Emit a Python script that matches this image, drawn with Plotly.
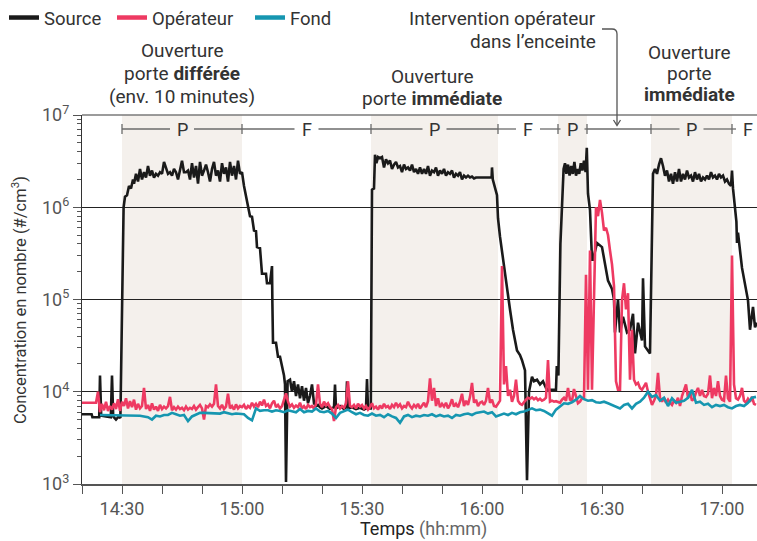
import pandas as pd
import plotly.graph_objects as go

# ---------------- data (minutes after 14:00, concentration #/cm3) ----------------
src_time = [20, 22.4, 22.6, 24.3, 24.5, 24.8, 26.0, 27.2, 27.5, 27.8, 28.5, 29.2, 29.6,
            30.4, 30.75, 31.25, 31.75, 32.25, 32.75, 33.0,
            33.5, 34, 34.5, 35, 35.5, 36, 36.5, 37, 37.5, 38, 38.5, 39, 39.5, 40, 40.5, 41, 41.5,
            42, 42.5, 43, 43.5, 44, 44.5, 45, 45.5, 46, 46.5, 47, 47.5, 48, 48.5, 49, 49.5, 50,
            50.5, 51, 51.5, 52, 52.5, 53, 53.5, 54, 54.5, 55, 55.5, 56, 56.5, 57, 57.5, 58, 58.5,
            59, 59.5, 60,
            60.5, 61.25, 62, 62.5, 63, 63.5, 63.75, 64.5, 65, 66, 66.25, 67, 67.5, 67.6, 67.75,
            68.5, 69, 69.5, 70, 70.5, 70.75, 71, 71.4, 72, 72.5, 73, 73.5, 74, 74.5, 75, 75.5,
            76, 76.5, 77, 77.5, 78, 78.5, 79, 79.5, 80, 81, 82, 83, 83.25, 83.5, 84.5, 85.5, 86,
            86.25, 86.5, 87.5, 88.5, 89.5, 90.5, 91, 91.25, 91.5, 92.2, 92.5, 93, 93.25, 93.6,
            94, 94.5, 95, 95.5, 96, 96.5, 97, 97.5, 98, 98.5, 99, 99.5, 100, 100.5, 101, 101.5,
            102, 102.5, 103, 103.5, 104, 104.5, 105, 105.5, 106, 106.5, 107, 107.5, 108, 108.5,
            109, 109.5, 110, 110.5, 111, 111.5, 112, 112.5, 113, 113.5, 114, 114.5, 115, 115.5,
            116, 116.5, 117, 117.5, 118, 118.5, 119, 119.5, 120, 120.5, 121, 121.5, 122, 122.4,
            122.5, 122.7, 123.75, 124, 124.5, 125.25, 126.25, 127, 127.75, 128.75, 129.5, 130,
            130.75, 131.25, 131.75, 132.5, 133, 133.75, 134.5, 135.25, 136, 136.5, 137.5, 138.5,
            138.7, 139.1, 139.6, 140.2, 140.4,
            140.75, 141.1, 141.5, 141.9, 142.3, 142.7, 143.1, 143.5, 143.9, 144.3, 144.7, 145.1,
            145.5, 145.9, 146.2, 146.5, 147, 147.5, 147.75, 148.75, 150, 150.75, 151.5, 152.5,
            153.0, 153.25, 154, 154.5, 155.25, 156.25, 157, 157.75, 158.25, 159, 160, 160.25,
            160.75, 162, 162.5, 162.75,
            163.25, 163.75, 164.25, 164.75, 165.25, 165.75, 166.25, 166.75, 167.25, 167.75,
            168.25, 168.75, 169.25, 169.75, 170.25, 170.75, 171.25, 171.75, 172.25, 172.75,
            173.25, 173.75, 174.25, 174.75, 175.25, 175.75, 176.25, 176.75, 177.25, 177.75,
            178.25, 178.75, 179.25, 179.75, 180.25, 180.75, 181.25, 181.75, 182.25, 182.5,
            182.75, 183.25, 183.6, 183.75, 184, 185, 185.75, 186.5, 187, 187.75, 188.25, 188.75]

src_conc = [5.7e3, 5.7e3, 5.3e3, 5.3e3, 1.5e4, 5.5e3, 5.4e3, 5.3e3, 1.5e4, 5.4e3, 5.0e3, 5.4e3, 5.2e3,
            1.0e6, 1.3e6, 1.35e6, 1.7e6, 1.6e6, 2.0e6, 1.8e6,
            2.3e6, 1.9e6, 2.6e6, 2.0e6, 2.4e6, 2.1e6, 2.8e6, 2.2e6, 2.5e6, 2.1e6, 2.3e6, 2.2e6,
            2.4e6, 2.3e6, 3.1e6, 2.6e6, 2.3e6, 2.4e6, 2.2e6, 2.6e6, 2.4e6, 2.0e6, 2.6e6, 3.2e6,
            2.4e6, 2.4e6, 2.5e6, 2.0e6, 3.0e6, 2.1e6, 2.8e6, 1.8e6, 3.1e6, 2.2e6, 2.5e6, 2.9e6,
            2.4e6, 1.9e6, 2.6e6, 3.1e6, 2.2e6, 2.5e6, 1.9e6, 3.0e6, 2.3e6, 2.7e6, 1.9e6, 3.1e6,
            2.2e6, 2.8e6, 2.0e6, 3.2e6, 2.3e6, 2.4e6,
            1.7e6, 1.2e6, 8.0e5, 7.9e5, 5.6e5, 5.5e5, 3.7e5, 3.6e5, 1.9e5, 1.9e5, 1.5e5, 1.5e5,
            2.3e5, 9.0e4, 3.4e4, 3.4e4, 2.4e4, 2.4e4, 1.9e4, 1.5e4, 1.2e4, 1.05e3, 1.3e4, 1.35e4,
            1.0e4, 1.3e4, 9.0e3, 1.2e4, 8.5e3, 1.15e4, 8.0e3, 1.1e4, 7.5e3, 9.0e3, 1.2e4, 7.5e3,
            7.0e3, 7.2e3, 6.8e3, 6.6e3, 7.0e3, 6.5e3, 6.8e3, 1.2e4, 6.6e3, 7.0e3, 6.5e3, 6.8e3,
            1.3e4, 6.6e3, 6.8e3, 6.5e3, 6.7e3, 6.4e3, 6.6e3, 1.37e4, 6.6e3, 6.6e3, 1.55e6, 1.6e6,
            3.7e6, 3.0e6,
            3.5e6, 3.4e6, 3.5e6, 2.7e6, 3.3e6, 3.0e6, 3.2e6, 2.6e6, 2.9e6, 3.1e6, 2.7e6, 2.8e6,
            2.4e6, 2.9e6, 2.6e6, 2.7e6, 2.5e6, 2.9e6, 2.4e6, 2.6e6, 2.3e6, 2.7e6, 2.3e6, 2.6e6,
            2.3e6, 2.8e6, 2.2e6, 2.5e6, 2.4e6, 2.7e6, 2.2e6, 2.5e6, 2.3e6, 2.6e6, 2.2e6, 2.4e6,
            2.3e6, 2.5e6, 2.1e6, 2.3e6, 2.2e6, 2.4e6, 2.0e6, 2.2e6, 2.1e6, 2.2e6, 2.1e6, 2.15e6,
            2.05e6, 2.1e6, 2.1e6, 2.1e6, 2.1e6, 2.1e6, 2.1e6, 2.1e6, 2.1e6, 2.1e6,
            2.7e6, 2.0e6, 1.35e6, 7.6e5, 4.8e5, 2.7e5, 1.4e5, 7.8e4, 4.7e4, 2.8e4, 2.5e4, 2.2e4,
            1.7e4, 1.1e3, 1.0e4, 1.45e4, 1.3e4, 1.35e4, 1.2e4, 1.3e4, 1.1e4, 1.05e4, 1.05e4, 1.05e4,
            1.9e4, 1.5e4, 4.0e5, 1.8e6, 2.6e6,
            3.0e6, 2.3e6, 2.9e6, 2.2e6, 2.8e6, 2.3e6, 3.1e6, 2.2e6, 2.6e6, 2.3e6, 3.0e6, 2.5e6,
            3.2e6, 2.4e6, 4.4e6, 1.4e6, 9.3e5, 2.7e5, 2.7e5, 4.1e5, 3.7e5, 2.5e5, 1.6e5, 1.3e5,
            1.0e5, 4.4e4, 1.0e5, 4.4e4, 6.5e4, 4.4e4, 4.7e4, 7.0e4, 2.6e4, 5.6e4, 3.6e4, 1.7e5,
            3.1e4, 2.6e4, 1.2e6, 2.3e6,
            2.6e6, 2.3e6, 2.9e6, 3.4e6, 2.8e6, 2.2e6, 2.5e6, 1.9e6, 2.3e6, 1.8e6,
            2.4e6, 1.9e6, 2.6e6, 1.9e6, 2.3e6, 2.0e6, 2.5e6, 2.1e6, 2.2e6, 1.9e6,
            2.4e6, 2.0e6, 2.3e6, 1.9e6, 2.1e6, 2.0e6, 2.2e6, 2.0e6, 2.4e6, 2.1e6,
            2.2e6, 2.0e6, 2.3e6, 2.1e6, 2.2e6, 1.9e6, 2.0e6, 1.8e6, 1.7e6, 2.5e6,
            1.6e6, 9.4e5, 7.0e5, 4.1e5, 5.3e5, 2.2e5, 1.4e5, 9.8e4, 4.7e4, 8.3e4, 5.0e4, 5.6e4]

# Opérateur: one reading every 30 s from 14:20
op_start, op_step = 20.0, 0.5
op_conc = [
    7.6e3, 7.6e3, 7.6e3, 7.6e3, 7.6e3, 7.6e3, 7.6e3, 7.6e3, 1.0e4, 6.0e3,
    7.4e3, 6.3e3, 7.8e3, 6.2e3, 7.0e3, 6.4e3, 7.5e3, 6.5e3, 8.3e3, 6.2e3,
    7.8e3, 7.0e3, 8.5e3, 6.6e3, 7.9e3, 6.8e3, 8.2e3, 6.4e3, 7.4e3, 6.6e3,
    7.0e3, 1.1e4, 6.5e3, 7.2e3, 6.2e3, 7.5e3, 6.4e3, 6.9e3, 6.2e3, 7.2e3,
    6.5e3, 6.9e3, 6.6e3, 7.0e3, 8.8e3, 6.3e3, 6.8e3, 6.4e3, 6.9e3, 6.5e3,
    6.7e3, 6.3e3, 6.9e3, 6.4e3, 6.7e3, 6.5e3, 7.0e3, 6.4e3, 6.8e3, 7.2e3,
    6.6e3, 5.0e3, 7.0e3, 6.8e3, 7.3e3, 6.9e3, 7.4e3, 1.2e4, 7.0e3, 6.6e3,
    7.2e3, 6.5e3, 6.9e3, 9.5e3, 6.6e3, 7.0e3, 6.4e3, 7.3e3, 6.6e3, 7.0e3,
    6.8e3, 7.2e3, 6.5e3, 7.0e3, 6.7e3, 7.6e3, 6.9e3, 7.4e3, 6.8e3, 7.8e3,
    7.1e3, 8.2e3, 7.0e3, 7.3e3, 6.6e3, 7.5e3, 8.0e3, 6.8e3, 7.2e3, 6.6e3,
    7.0e3, 8.0e3, 9.6e3, 7.8e3, 6.9e3, 7.3e3, 6.7e3, 7.1e3, 6.8e3, 7.6e3,
    6.6e3, 7.0e3, 6.5e3, 7.2e3, 6.8e3, 7.0e3, 6.6e3, 7.3e3, 1.2e4, 7.4e3,
    6.8e3, 7.8e3, 7.1e3, 7.5e3, 6.8e3, 6.5e3, 4.8e3, 6.8e3, 7.2e3, 6.6e3,
    7.0e3, 6.7e3, 7.5e3, 1.3e4, 7.0e3, 6.8e3, 7.2e3, 6.6e3, 7.4e3, 6.9e3,
    7.2e3, 6.6e3, 7.0e3, 6.4e3, 6.8e3, 7.5e3, 6.6e3, 6.9e3, 6.4e3, 7.1e3,
    6.6e3, 7.4e3, 6.8e3, 7.0e3, 6.5e3, 7.2e3, 6.8e3, 7.6e3, 6.9e3, 7.3e3,
    6.6e3, 7.0e3, 6.8e3, 7.8e3, 7.0e3, 6.6e3, 7.2e3, 6.8e3, 7.4e3, 6.6e3,
    7.0e3, 7.6e3, 6.8e3, 7.9e3, 1.4e4, 8.0e3, 1.1e4, 7.0e3, 8.5e3, 6.8e3,
    7.4e3, 6.9e3, 7.6e3, 6.6e3, 7.2e3, 8.3e3, 6.9e3, 7.4e3, 6.8e3, 7.8e3,
    9.5e3, 7.0e3, 8.0e3, 7.2e3, 8.8e3, 1.25e4, 7.6e3, 8.2e3, 7.0e3, 7.6e3,
    7.8e3, 7.2e3, 8.0e3, 1.1e4, 7.6e3, 8.2e3, 7.0e3, 6.9e3, 7.4e3, 8.0e3,
    2.3e5, 1.2e4, 1.9e4, 9.0e3, 1.05e4, 7.8e3, 9.0e3, 1.35e4, 8.0e3, 7.4e3,
    7.2e3, 7.8e3, 8.2e3, 8.6e3, 8.4e3, 8.7e3, 8.3e3, 8.6e3, 8.1e3, 8.4e3,
    8.0e3, 8.2e3, 8.6e3, 2.2e4, 7.8e3, 8.0e3, 7.8e3, 7.9e3, 7.7e3, 7.6e3,
    8.2e3, 8.6e3, 8.0e3, 1.1e4, 8.2e3, 8.0e3, 1.07e4, 8.6e3, 7.5e3, 7.8e3,
    8.5e3, 8.5e3, 1.85e5, 1.05e4, 3.4e5, 1.05e4, 1.4e5, 1.0e6, 8.0e5, 1.2e6,
    8.7e5, 5.6e5, 6.0e5, 5.0e5, 3.4e5, 2.4e5, 1.4e5, 1.3e4, 1.05e4, 1.05e4,
    9.8e4, 1.5e5, 7.8e4, 1.17e5, 1.35e4, 4.7e4, 1.35e4, 1.2e4, 1.25e4, 1.1e4,
    1.05e4, 1.15e4, 1.25e4, 1.0e4, 8.5e3, 7.2e3, 8.0e3, 9.0e3, 1.6e4, 8.6e3,
    7.8e3, 8.6e3, 7.6e3, 8.2e3, 7.6e3, 7.2e3, 8.0e3, 7.6e3, 8.6e3, 7.0e3,
    9.0e3, 1.05e4, 1.2e4, 8.6e3, 1.0e4, 8.0e3, 8.4e3, 9.8e3, 1.1e4, 9.0e3,
    1.05e4, 9.0e3, 8.8e3, 9.5e3, 1.5e4, 8.5e3, 1.1e4, 9.0e3, 1.3e4, 9.0e3,
    8.2e3, 8.0e3, 1.5e4, 8.5e3, 7.8e3, 3.0e5, 1.2e4, 8.5e3, 8.2e3, 9.0e3,
    1.1e4, 8.0e3, 7.6e3, 8.4e3, 7.8e3, 8.8e3, 7.4e3, 7.2e3]

# Fond: one reading per minute from 14:24:30
fond_start, fond_step = 24.5, 1.0
fond_conc = [
    5.6e3, 5.6e3, 5.6e3, 5.5e3, 5.6e3, 5.6e3, 5.5e3, 5.5e3, 5.6e3, 5.5e3,
    5.5e3, 5.4e3, 5.3e3, 5.0e3, 5.5e3, 5.4e3, 5.6e3, 5.6e3, 5.9e3, 5.7e3,
    5.5e3, 5.6e3, 4.8e3, 5.4e3, 5.6e3, 5.9e3, 5.9e3, 5.9e3, 5.9e3, 5.8e3,
    5.8e3, 6.0e3, 5.9e3, 5.7e3, 5.8e3, 5.8e3, 5.7e3, 5.2e3, 4.9e3, 6.6e3,
    6.2e3, 6.3e3, 6.3e3, 6.1e3, 6.3e3, 6.2e3, 6.0e3, 6.3e3, 6.1e3, 6.0e3,
    6.5e3, 6.0e3, 6.2e3, 6.1e3, 6.6e3, 6.1e3, 6.0e3, 6.2e3, 5.8e3, 5.2e3,
    5.9e3, 6.1e3, 6.4e3, 6.0e3, 5.7e3, 5.9e3, 5.6e3, 5.5e3, 5.8e3, 5.5e3,
    5.6e3, 5.3e3, 5.7e3, 5.4e3, 5.2e3, 4.6e3, 5.4e3, 5.6e3, 5.3e3, 5.5e3,
    5.4e3, 5.6e3, 5.5e3, 5.7e3, 5.4e3, 5.6e3, 5.4e3, 5.5e3, 5.2e3, 5.6e3,
    5.5e3, 5.7e3, 5.8e3, 5.6e3, 5.9e3, 6.0e3, 6.1e3, 5.8e3, 6.0e3, 5.4e3,
    5.6e3, 5.8e3, 5.6e3, 5.9e3, 5.7e3, 6.0e3, 6.1e3, 6.4e3, 6.6e3, 6.3e3,
    6.4e3, 6.2e3, 5.9e3, 5.5e3, 6.4e3, 6.9e3, 7.5e3, 7.4e3, 7.7e3, 8.2e3,
    9.0e3, 8.3e3, 8.0e3, 8.1e3, 7.7e3, 7.6e3, 7.8e3, 7.5e3, 7.2e3, 6.8e3,
    6.6e3, 7.2e3, 7.4e3, 6.6e3, 7.4e3, 7.8e3, 8.6e3, 1.0e4, 8.8e3, 9.2e3,
    8.0e3, 8.6e3, 7.0e3, 8.5e3, 7.6e3, 7.8e3, 8.0e3, 8.6e3, 1.05e4, 7.6e3,
    7.8e3, 7.2e3, 7.4e3, 6.8e3, 7.2e3, 7.0e3, 7.2e3, 6.8e3, 6.6e3, 7.0e3,
    7.2e3, 7.0e3, 7.6e3, 8.6e3, 8.8e3]

# periods: P = porte ouverte (shaded), F = fermée; minutes after 14:00
period_start = [30, 60, 92.25, 124, 139, 146.25, 162.25, 182.5]
period_end = [60, 92.25, 124, 139, 146.25, 162.25, 182.5, 195]
period_label = ["P", "F", "P", "F", "P", "", "P", "F"]

series_names = ["Source", "Opérateur", "Fond"]
series_colors = ["#1a1a1a", "#ee3a62", "#1696b0"]

y_tickvals = [1e3, 1e4, 1e5, 1e6, 1e7]
y_ticktext = ["10<sup>3</sup>", "10<sup>4</sup>", "10<sup>5</sup>", "10<sup>6</sup>", "10<sup>7</sup>"]

# ---------------- helpers ----------------
BASE = pd.Timestamp("2024-01-01 14:00:00")


def tm(m):
    return BASE + pd.Timedelta(minutes=float(m))


def tstr(m):
    return tm(m).strftime("%Y-%m-%d %H:%M:%S.%f")


op_time = [op_start + op_step * i for i in range(len(op_conc))]
fond_time = [fond_start + fond_step * i for i in range(len(fond_conc))]

# plot-area geometry (px) for paper conversions
W, H = 757, 541
L, R, T, B = 82, 0, 115, 57
PW, PH = W - L - R, H - T - B


def px(x):
    return (x - L) / PW


def py(y):
    return (H - B - y) / PH


FONT = "Roboto"
fig = go.Figure()

xs = [src_time, op_time, fond_time]
ys = [src_conc, op_conc, fond_conc]
for name, col, xv, yv in zip(series_names, series_colors, xs, ys):
    fig.add_trace(go.Scatter(x=[tm(v) for v in xv], y=yv, mode="lines", name=name,
                             line=dict(color=col, width=2.6), showlegend=False,
                             hoverinfo="skip"))
# legend entries (thicker strokes), one legend box per entry
legend_ids = ["legend", "legend2", "legend3"]
legend_x = [4, 112, 250]
for name, col, lid in zip(series_names, series_colors, legend_ids):
    fig.add_trace(go.Scatter(x=[None], y=[None], mode="lines", name=name, legend=lid,
                             line=dict(color=col, width=4.5)))

shapes = []
# shaded open-door periods
for s, e, lab in zip(period_start, period_end, period_label):
    if lab == "P":
        shapes.append(dict(type="rect", xref="x", yref="paper", x0=tstr(s), x1=tstr(e),
                           y0=0, y1=1, fillcolor="#f4f0ec", line=dict(width=0), layer="below"))

# brackets row
yb = py(129)
ytk0, ytk1 = py(124), py(134)
bcol = "#6b6b6b"
gap = 3.0  # minutes each side of label
label_pos = []
for s, e, lab in zip(period_start, period_end, period_label):
    e2 = min(e, 188.75)
    c = (s + e) / 2 if e < 190 else 186.5
    label_pos.append(c)
    if lab:
        shapes.append(dict(type="line", xref="x", yref="paper", x0=tstr(s), x1=tstr(c - gap),
                           y0=yb, y1=yb, line=dict(color=bcol, width=1.3)))
        if c + gap < e2:
            shapes.append(dict(type="line", xref="x", yref="paper", x0=tstr(c + gap), x1=tstr(e2),
                               y0=yb, y1=yb, line=dict(color=bcol, width=1.3)))
    else:
        shapes.append(dict(type="line", xref="x", yref="paper", x0=tstr(s), x1=tstr(e),
                           y0=yb, y1=yb, line=dict(color=bcol, width=1.3)))
    shapes.append(dict(type="line", xref="x", yref="paper", x0=tstr(s), x1=tstr(s),
                       y0=ytk0, y1=ytk1, line=dict(color=bcol, width=1.3)))

# top border at 10^7
shapes.append(dict(type="line", xref="paper", yref="paper", x0=0, x1=1, y0=1, y1=1,
                   line=dict(color="#7a7a7a", width=1.6)))

# intervention callout connector
path = (f"M {px(602)},{py(29)} L {px(612)},{py(29)} Q {px(617)},{py(29)} {px(617)},{py(34)} "
        f"L {px(617)},{py(125)}")
shapes.append(dict(type="path", xref="paper", yref="paper", path=path,
                   line=dict(color="#555555", width=1.3)))
arrow = f"M {px(613.5)},{py(120)} L {px(617)},{py(125.5)} L {px(620.5)},{py(120)}"
shapes.append(dict(type="path", xref="paper", yref="paper", path=arrow,
                   line=dict(color="#555555", width=1.3)))

annotations = []
for c, lab in zip(label_pos, period_label):
    if lab:
        annotations.append(dict(x=tm(c), y=yb, xref="x", yref="paper", text=lab,
                                showarrow=False, font=dict(size=18, color="#333333", family=FONT),
                                xanchor="center", yanchor="middle"))

txt_font = dict(size=19, color="#333333", family=FONT)
text_lines = [
    ("Ouverture", 182, 51, "center"),
    ("porte <b>différée</b>", 182, 74, "center"),
    ("(env. 10 minutes)", 182, 96, "center"),
    ("Ouverture", 432, 76, "center"),
    ("porte <b>immédiate</b>", 432, 98, "center"),
    ("Intervention opérateur", 598, 19, "right"),
    ("dans l’enceinte", 598, 41, "right"),
    ("Ouverture", 689, 52, "center"),
    ("porte", 689, 73, "center"),
    ("<b>immédiate</b>", 689, 94, "center"),
]
for t, x, y, anc in text_lines:
    annotations.append(dict(x=px(x), y=py(y), xref="paper", yref="paper", showarrow=False,
                            text=t, font=txt_font, xanchor=anc, yanchor="middle"))

annotations += [
    dict(x=px(19), y=py(300), xref="paper", yref="paper", showarrow=False, textangle=-90,
         text="Concentration en nombre (#/cm<sup>3</sup>)",
         font=dict(size=16.5, color="#333333", family=FONT), xanchor="center", yanchor="middle"),
    dict(x=px(423), y=py(529), xref="paper", yref="paper", showarrow=False,
         text="<span style='color:#222222'>Temps</span> <span style='color:#666666'>(hh:mm)</span>",
         font=dict(size=18, family=FONT), xanchor="center", yanchor="middle"),
]

legend_common = dict(orientation="h", xanchor="left", yanchor="middle", y=py(18),
                     font=dict(size=18.5, color="#333333", family=FONT),
                     bgcolor="rgba(0,0,0,0)", itemwidth=30)

fig.update_layout(
    width=W, height=H,
    margin=dict(l=L, r=R, t=T, b=B, pad=0, autoexpand=False),
    paper_bgcolor="white", plot_bgcolor="white",
    font=dict(family=FONT, color="#333333"),
    shapes=shapes, annotations=annotations,
    legend=dict(x=px(legend_x[0]), **legend_common),
    legend2=dict(x=px(legend_x[1]), **legend_common),
    legend3=dict(x=px(legend_x[2]), **legend_common),
    hovermode=False,
)

fig.update_xaxes(
    type="date", range=[tm(20), tm(188.75)], automargin=False,
    dtick=30 * 60 * 1000, tickformat="%H:%M",
    ticks="outside", ticklen=8, tickwidth=1.3, tickcolor="#555555",
    minor=dict(dtick=10 * 60 * 1000, ticks="outside", ticklen=8, tickwidth=1.3,
               tickcolor="#555555", showgrid=False),
    showline=True, linecolor="#555555", linewidth=1.5,
    showgrid=False, zeroline=False,
    tickfont=dict(size=18, color="#555555", family=FONT),
)
fig.update_yaxes(
    type="log", range=[3, 7], automargin=False,
    tickvals=y_tickvals, ticktext=y_ticktext,
    ticks="outside", ticklen=8, tickwidth=1.3, tickcolor="#555555",
    minor=dict(dtick="D1", ticks="outside", ticklen=4, tickwidth=1, tickcolor="#555555",
               showgrid=False),
    showline=True, linecolor="#333333", linewidth=1.3,
    showgrid=True, gridcolor="#222222", gridwidth=1,
    zeroline=False,
    tickfont=dict(size=18, color="#555555", family=FONT),
)

fig.write_html("out.html", config={"displayModeBar": False},
               post_script="document.body.style.margin='0';document.body.style.overflow='hidden';")
